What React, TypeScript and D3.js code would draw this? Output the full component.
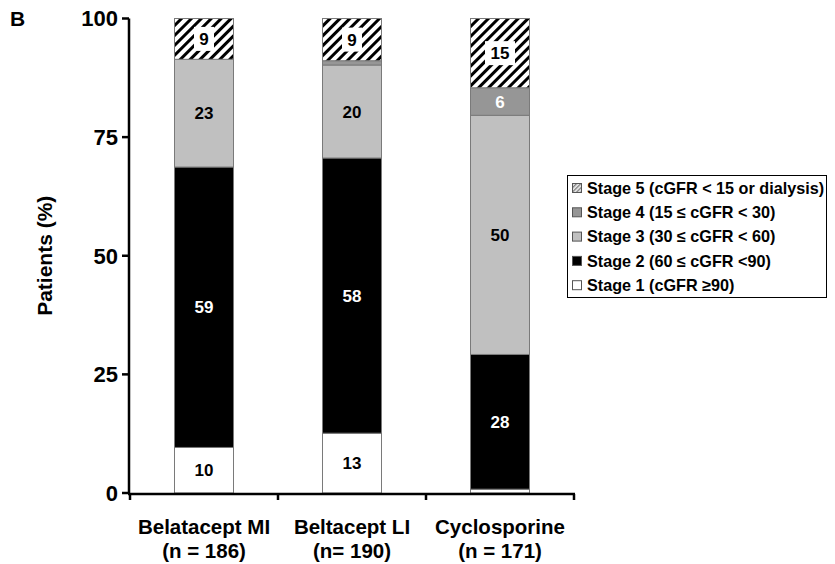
import React from "react";
import * as d3 from "d3";

// Groups on the x axis (two label lines each)
const groups = ["Belatacept MI", "Beltacept LI", "Cyclosporine"];
const groupSizes = ["(n = 186)", "(n= 190)", "(n = 171)"];

// Percent of patients per CKD stage, in each group
const stage1 = [9.6, 12.6, 0.8];
const stage2 = [59.1, 58.0, 28.4];
const stage3 = [22.7, 19.6, 50.4];
const stage4 = [0, 0.9, 5.8];
const stage5 = [8.6, 8.9, 14.6];

const stageKeys = ["s1", "s2", "s3", "s4", "s5"];
const stageNames = [
  "Stage 1 (cGFR \u226590)",
  "Stage 2 (60 \u2264 cGFR <90)",
  "Stage 3 (30 \u2264 cGFR < 60)",
  "Stage 4 (15 \u2264 cGFR < 30)",
  "Stage 5 (cGFR < 15 or dialysis)",
];
const yTicks = [0, 25, 50, 75, 100];

const W = 835;
const H = 564;
const FONT = "'Liberation Sans', Arial, sans-serif";

const fills: Record<string, string> = {
  s1: "#ffffff",
  s2: "#000000",
  s3: "#c0c0c0",
  s4: "#969696",
  s5: "url(#hatch)",
};
const textFill: Record<string, string> = {
  s1: "#000",
  s2: "#fff",
  s3: "#000",
  s4: "#fff",
  s5: "#000",
};

export default function App() {
  const rows = groups.map((g, i) => ({
    group: g,
    s1: stage1[i],
    s2: stage2[i],
    s3: stage3[i],
    s4: stage4[i],
    s5: stage5[i],
  }));
  const series = d3.stack<any>().keys(stageKeys)(rows);

  const x = d3.scaleBand<string>().domain(groups).range([130, 574]).paddingInner(0).paddingOuter(0);
  const y = d3.scaleLinear().domain([0, 100]).range([493, 18.5]);
  const barW = 59;
  const axisX = 129;

  const legendOrder = [4, 3, 2, 1, 0];

  return (
    <svg
      width={W}
      height={H}
      style={{ position: "absolute", left: 0, top: 0, background: "#fff" }}
      fontFamily={FONT}
    >
      <defs>
        <pattern id="hatch" patternUnits="userSpaceOnUse" width={7} height={7} patternTransform="rotate(45)">
          <rect x={0} y={0} width={7} height={7} fill="#fff" />
          <rect x={0} y={0} width={3} height={7} fill="#000" />
        </pattern>
        <pattern id="hatchSmall" patternUnits="userSpaceOnUse" width={3} height={3} patternTransform="rotate(45)">
          <rect x={0} y={0} width={3} height={3} fill="#e8e8e8" />
          <rect x={0} y={0} width={1.2} height={3} fill="#777" />
        </pattern>
      </defs>

      <text x={10} y={26} fontSize={21} fontWeight="bold">B</text>

      {/* stacked bars */}
      {series.map((s) => (
        <g key={s.key}>
          {s.map((d, i) => {
            const cx = (x(groups[i]) as number) + x.bandwidth() / 2;
            const y0 = y(d[0]);
            const y1 = y(d[1]);
            const h = y0 - y1;
            if (h <= 0) return null;
            return (
              <rect
                key={i}
                x={cx - barW / 2}
                y={y1}
                width={barW}
                height={h}
                fill={fills[s.key]}
                stroke="#7a7a7a"
                strokeWidth={1}
              />
            );
          })}
        </g>
      ))}

      {/* value labels */}
      {series.map((s) => (
        <g key={"l" + s.key}>
          {s.map((d, i) => {
            const v = d[1] - d[0];
            if (v < 2) return null;
            const cx = (x(groups[i]) as number) + x.bandwidth() / 2;
            const cy = (y(d[0]) + y(d[1])) / 2;
            const label = d3.format(".0f")(v);
            const boxW = label.length * 10 + 10;
            return (
              <g key={i}>
                {s.key === "s5" && (
                  <rect x={cx - boxW / 2} y={cy - 12} width={boxW} height={24} fill="#fff" />
                )}
                <text
                  x={cx}
                  y={cy}
                  dy="0.36em"
                  textAnchor="middle"
                  fontSize={17}
                  fontWeight="bold"
                  fill={textFill[s.key]}
                >
                  {label}
                </text>
              </g>
            );
          })}
        </g>
      ))}

      {/* y axis */}
      <line x1={axisX} x2={axisX} y1={y(100)} y2={y(0) + 1} stroke="#000" strokeWidth={2.5} />
      {yTicks.map((t) => (
        <g key={t}>
          <line x1={axisX - 7} x2={axisX} y1={y(t)} y2={y(t)} stroke="#000" strokeWidth={2.5} />
          <text x={118} y={y(t)} dy="0.36em" textAnchor="end" fontSize={22} fontWeight="bold">
            {t}
          </text>
        </g>
      ))}
      <text
        transform={`translate(52, ${y(50)}) rotate(-90)`}
        textAnchor="middle"
        fontSize={21}
        fontWeight="bold"
      >
        Patients (%)
      </text>

      {/* x axis */}
      <line x1={axisX - 1} x2={575} y1={494} y2={494} stroke="#000" strokeWidth={2.5} />
      {[...groups.map((g) => x(g) as number), 574].map((t, i) => (
        <line key={i} x1={t} x2={t} y1={494} y2={500} stroke="#000" strokeWidth={2.5} />
      ))}
      {groups.map((g, i) => {
        const cx = (x(g) as number) + x.bandwidth() / 2;
        return (
          <g key={g}>
            <text x={cx} y={534} textAnchor="middle" fontSize={20.5} fontWeight="bold">{g}</text>
            <text x={cx} y={558} textAnchor="middle" fontSize={20.5} fontWeight="bold">{groupSizes[i]}</text>
          </g>
        );
      })}

      {/* legend */}
      <rect x={567.5} y={175.5} width={259} height={122} fill="#fff" stroke="#000" strokeWidth={1} />
      {legendOrder.map((k, j) => {
        const cy = 188 + j * 24.3;
        const key = stageKeys[k];
        return (
          <g key={key}>
            <rect
              x={572.5}
              y={cy - 4.5}
              width={9}
              height={9}
              fill={key === "s5" ? "url(#hatchSmall)" : fills[key]}
              stroke="#555"
              strokeWidth={1}
            />
            <text x={587} y={cy} dy="0.36em" fontSize={16.2} fontWeight="bold">
              {stageNames[k]}
            </text>
          </g>
        );
      })}
    </svg>
  );
}
